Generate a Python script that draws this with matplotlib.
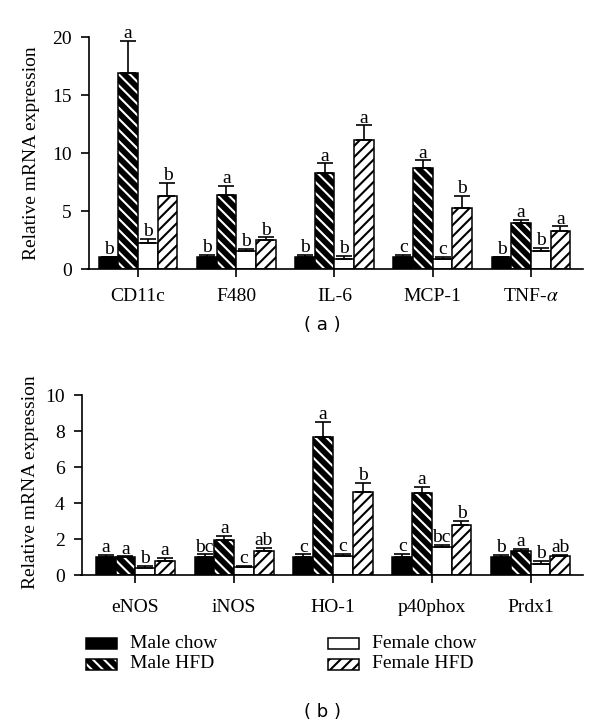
import matplotlib
matplotlib.use("Agg")
import matplotlib.pyplot as plt
import numpy as np
from matplotlib.patches import Rectangle

# --------------------------------------------------------------------------- #
# Data
# --------------------------------------------------------------------------- #
genes_a = ["CD11c", "F480", "IL-6", "MCP-1", "TNF-$\\alpha$"]
male_chow_a = [1.0, 1.0, 1.0, 1.0, 1.0]
male_chow_a_err = [0.06, 0.23, 0.25, 0.20, 0.05]
male_hfd_a = [16.93, 6.39, 8.31, 8.68, 3.98]
male_hfd_a_err = [2.73, 0.80, 0.80, 0.69, 0.26]
female_chow_a = [2.23, 1.52, 0.89, 0.86, 1.58]
female_chow_a_err = [0.35, 0.20, 0.26, 0.17, 0.25]
female_hfd_a = [6.30, 2.46, 11.12, 5.30, 3.30]
female_hfd_a_err = [1.15, 0.26, 1.26, 1.03, 0.37]
letters_a = [
  ["b", "a", "b", "b"],
  ["b", "a", "b", "b"],
  ["b", "a", "b", "a"],
  ["c", "a", "c", "b"],
  ["b", "a", "b", "a"],
]

genes_b = ["eNOS", "iNOS", "HO-1", "p40phox", "Prdx1"]
male_chow_b = [1.0, 1.0, 1.0, 1.0, 1.0]
male_chow_b_err = [0.10, 0.15, 0.15, 0.17, 0.12]
male_hfd_b = [0.98, 1.94, 7.69, 4.57, 1.35]
male_hfd_b_err = [0.06, 0.23, 0.83, 0.34, 0.08]
female_chow_b = [0.41, 0.43, 1.07, 1.57, 0.63]
female_chow_b_err = [0.09, 0.09, 0.10, 0.10, 0.17]
female_hfd_b = [0.78, 1.35, 4.61, 2.76, 1.04]
female_hfd_b_err = [0.15, 0.17, 0.52, 0.24, 0.07]
letters_b = [
  ["a", "a", "b", "a"],
  ["bc", "a", "c", "ab"],
  ["c", "a", "c", "b"],
  ["c", "a", "bc", "b"],
  ["b", "a", "b", "ab"],
]

group_names = ["Male chow", "Male HFD", "Female chow", "Female HFD"]

# --------------------------------------------------------------------------- #
# Styling
# --------------------------------------------------------------------------- #
SERIF = "Liberation Serif"
FS = 14
W, H = 600, 727
BAR_W = 0.2
OFFSETS = np.array([-1.5, -0.5, 0.5, 1.5]) * BAR_W
STYLES = [
  dict(face="black", hatch=None, hatch_col=None),
  dict(face="black", hatch="\\\\\\", hatch_col="white"),
  dict(face="white", hatch=None, hatch_col=None),
  dict(face="white", hatch="///", hatch_col="black"),
]

plt.rcParams["hatch.linewidth"] = 1.5
plt.rcParams["mathtext.fontset"] = "stix"
plt.rcParams["font.family"] = SERIF


def _draw_bar(ax, x, vals, style):
  if style["hatch"]:
    ax.bar(x, vals, BAR_W, color=style["face"], edgecolor=style["hatch_col"],
           hatch=style["hatch"], linewidth=0, zorder=2)
    ax.bar(x, vals, BAR_W, fill=False, edgecolor="black", linewidth=1.1, zorder=2)
  else:
    ax.bar(x, vals, BAR_W, color=style["face"], edgecolor="black",
           linewidth=1.1, zorder=2)


def _panel(ax, genes, series, errs, letters, ymax, ystep, xlim, label_pad):
  x = np.arange(len(genes))
  for i, (vals, err) in enumerate(zip(series, errs)):
    xs = x + OFFSETS[i]
    _draw_bar(ax, xs, vals, STYLES[i])
    ax.errorbar(xs, vals, yerr=[np.zeros(len(err)), err], fmt="none",
                ecolor="black", elinewidth=1.2, capsize=6, capthick=1.2, zorder=3)
    for j in range(len(genes)):
      ax.annotate(letters[j][i], (xs[j], vals[j] + err[j]), xytext=(0, 2),
                  textcoords="offset points", ha="center", va="baseline",
                  fontsize=FS, family=SERIF)
  ax.set_xlim(*xlim)
  ax.set_ylim(0, ymax)
  ax.set_yticks(np.arange(0, ymax + 0.01, ystep))
  ax.set_xticks(x)
  ax.set_xticklabels(genes)
  for s in ("top", "right"):
    ax.spines[s].set_visible(False)
  for s in ("left", "bottom"):
    ax.spines[s].set_linewidth(1.2)
  ax.tick_params(axis="y", direction="out", length=6, width=1.2, pad=6, labelsize=FS)
  ax.tick_params(axis="x", direction="out", length=6, width=1.2, pad=label_pad,
                 labelsize=FS)


fig = plt.figure(figsize=(W / 100, H / 100), dpi=100)

ax_a = fig.add_axes([88.5 / W, 1 - 269 / H, (583 - 88.5) / W, (269 - 37) / H])
_panel(ax_a, genes_a,
       [male_chow_a, male_hfd_a, female_chow_a, female_hfd_a],
       [male_chow_a_err, male_hfd_a_err, female_chow_a_err, female_hfd_a_err],
       letters_a, 20, 5, (-0.504, 4.53), 8)

ax_b = fig.add_axes([81.5 / W, 1 - 575 / H, (583 - 81.5) / W, (575 - 395) / H])
_panel(ax_b, genes_b,
       [male_chow_b, male_hfd_b, female_chow_b, female_hfd_b],
       [male_chow_b_err, male_hfd_b_err, female_chow_b_err, female_hfd_b_err],
       letters_b, 10, 2, (-0.545, 4.53), 11)

fig.text(32 / W, 1 - 153 / H, "Relative mRNA expression", rotation=90,
         ha="center", va="center", fontsize=FS)
fig.text(31 / W, 1 - 482 / H, "Relative mRNA expression", rotation=90,
         ha="center", va="center", fontsize=FS)

# Legend (manual, two columns)
legend_pos = [(86, 643), (86, 664), (328, 643), (328, 664)]
for name, style, (lx, ly) in zip(group_names, STYLES, legend_pos):
  rect = dict(xy=(lx / W, 1 - (ly + 5.5) / H), width=31 / W, height=11 / H,
              transform=fig.transFigure)
  if style["hatch"]:
    fig.patches.append(Rectangle(facecolor=style["face"], edgecolor=style["hatch_col"],
                                 hatch=style["hatch"], linewidth=0, **rect))
    fig.patches.append(Rectangle(fill=False, edgecolor="black", linewidth=1.1, **rect))
  else:
    fig.patches.append(Rectangle(facecolor=style["face"], edgecolor="black",
                                 linewidth=1.1, **rect))
  fig.text((lx + 44) / W, 1 - ly / H, name, ha="left", va="center", fontsize=FS)

fig.text(322 / W, 1 - 325 / H, "( a )", ha="center", va="center",
         fontsize=13, family="DejaVu Sans")
fig.text(322 / W, 1 - 712 / H, "( b )", ha="center", va="center",
         fontsize=13, family="DejaVu Sans")

fig.savefig("out.png", dpi=100)
